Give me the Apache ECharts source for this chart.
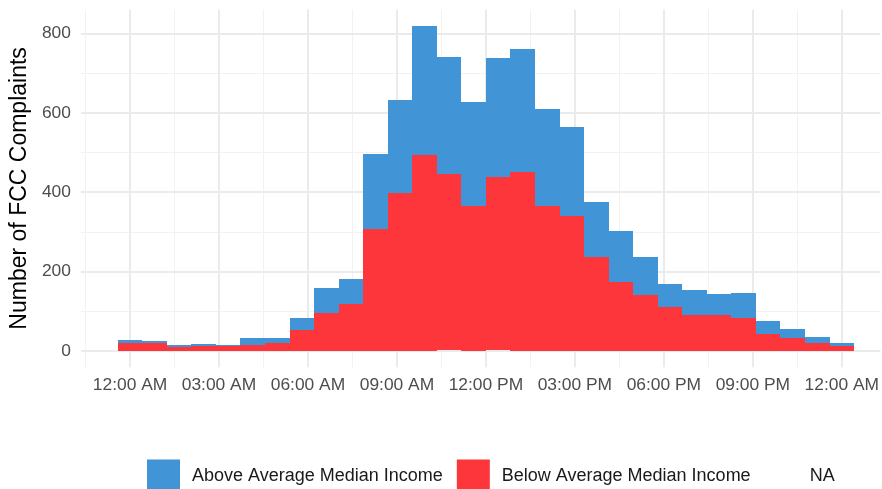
<!DOCTYPE html>
<html>
<head>
<meta charset="utf-8">
<script src="https://cdn.jsdelivr.net/npm/echarts@6/dist/echarts.min.js"></script>
<style>
html,body{margin:0;padding:0;background:#fff;}
#chart{width:882px;height:489px;}
</style>
</head>
<body>
<div id="chart"></div>
<script>
// Histogram: 30 bins spanning the day (hours), ggplot-style
const binStartHour = -0.4138;
const binWidthHour = 0.8276;
const belowIncome = [20,19,11,13,13,16,19,53,95,118,307,399,493,444,366,435,452,366,340,237,175,140,111,90,91,83,43,33,20,13];
const aboveIncome = [8,5,3,5,3,18,13,29,64,63,190,234,326,293,261,300,308,243,223,139,127,98,59,64,53,64,32,23,16,8];
const naIncome    = [0,0,0,0,0,0,0,0,0,0,0,0,0,3,0,3,0,0,0,0,0,0,0,0,0,0,0,0,0,0];
const seriesNames = ['Above Average Median Income','Below Average Median Income','NA'];
const xTickHours = [0,3,6,9,12,15,18,21,24];
const xTickLabels = ['12:00 AM','03:00 AM','06:00 AM','09:00 AM','12:00 PM','03:00 PM','06:00 PM','09:00 PM','12:00 AM'];
const xMinorHours = [-1.5,1.5,4.5,7.5,10.5,13.5,16.5,19.5,22.5];
const yTickValues = [0,200,400,600,800];
const yMinorValues = [100,300,500,700];

// stacked rectangles: NA at bottom, then Below, then Above on top
const naRects = [], belowRects = [], aboveRects = [];
for (let i = 0; i < belowIncome.length; i++) {
  const x0 = binStartHour + i * binWidthHour, x1 = x0 + binWidthHour;
  const b0 = 0, b1 = naIncome[i];
  const b2 = b1 + belowIncome[i];
  const b3 = b2 + aboveIncome[i];
  naRects.push([x0, x1, b0, b1]);
  belowRects.push([x0, x1, b1, b2]);
  aboveRects.push([x0, x1, b2, b3]);
}

function renderBin(params, api) {
  const x0 = api.value(0), x1 = api.value(1), y0 = api.value(2), y1 = api.value(3);
  if (y1 <= y0) return null;
  const p0 = api.coord([x0, y1]);
  const p1 = api.coord([x1, y0]);
  const L = Math.round(p0[0]), R = Math.round(p1[0]);
  const T = Math.round(p0[1]), B = Math.round(p1[1]);
  return {
    type: 'rect',
    shape: {x: L, y: T, width: R - L, height: B - T},
    style: {fill: api.visual('color')}
  };
}

const FONT = 'Liberation Sans, Arial, Helvetica, sans-serif';
const chart = echarts.init(document.getElementById('chart'), null, {renderer: 'canvas'});
const labelMap = {};
xTickHours.forEach((h, i) => { labelMap[h] = xTickLabels[i]; });

const X_MIN = -1.655, X_MAX = 25.3, Y_MIN = -41, Y_MAX = 860;

chart.setOption({
  animation: false,
  backgroundColor: '#ffffff',
  grid: {left: 80, right: 0, top: 9.5, bottom: 121.7, containLabel: false},
  xAxis: [{
    type: 'value', min: X_MIN, max: X_MAX, z: 1,
    axisLine: {show: false},
    axisTick: {show: false, customValues: xTickHours},
    axisLabel: {
      customValues: xTickHours,
      formatter: v => labelMap[v] !== undefined ? labelMap[v] : '',
      color: '#4d4d4d', fontFamily: FONT, fontSize: 17.4, margin: 9
    },
    splitLine: {show: true, lineStyle: {color: '#ebebeb', width: 2}}
  }, {
    type: 'value', min: X_MIN, max: X_MAX, position: 'bottom', z: 0,
    axisLine: {show: false},
    axisTick: {show: false, customValues: xMinorHours},
    axisLabel: {show: false, customValues: xMinorHours},
    splitLine: {show: true, lineStyle: {color: '#f2f2f2', width: 1}}
  }],
  yAxis: [{
    type: 'value', min: Y_MIN, max: Y_MAX, z: 1,
    name: 'Number of FCC Complaints',
    nameLocation: 'middle', nameRotate: 90, nameGap: 46,
    nameTextStyle: {color: '#000000', fontFamily: FONT, fontSize: 23},
    axisLine: {show: false},
    axisTick: {show: false, customValues: yTickValues},
    axisLabel: {
      customValues: yTickValues,
      color: '#4d4d4d', fontFamily: FONT, fontSize: 17.4, margin: 10
    },
    splitLine: {show: true, lineStyle: {color: '#ebebeb', width: 2}}
  }, {
    type: 'value', min: Y_MIN, max: Y_MAX, position: 'left', z: 0,
    axisLine: {show: false},
    axisTick: {show: false, customValues: yMinorValues},
    axisLabel: {show: false, customValues: yMinorValues},
    splitLine: {show: true, lineStyle: {color: '#f2f2f2', width: 1}}
  }],
  legend: {
    left: 147, top: 459.5, padding: 0, orient: 'horizontal',
    icon: 'rect', itemWidth: 33, itemHeight: 33, itemGap: 14,
    selectedMode: false,
    textStyle: {color: '#1a1a1a', fontFamily: FONT, fontSize: 18, padding: [0, 0, 0, 7]},
    data: seriesNames
  },
  series: [
    {
      name: seriesNames[2], type: 'custom', renderItem: renderBin,
      itemStyle: {color: 'rgba(0,0,0,0)'},
      encode: {x: [0, 1], y: [2, 3]}, data: naRects, z: 2
    },
    {
      name: seriesNames[1], type: 'custom', renderItem: renderBin,
      itemStyle: {color: '#fc363b'},
      encode: {x: [0, 1], y: [2, 3]}, data: belowRects, z: 3
    },
    {
      name: seriesNames[0], type: 'custom', renderItem: renderBin,
      itemStyle: {color: '#4194d6'},
      encode: {x: [0, 1], y: [2, 3]}, data: aboveRects, z: 3
    }
  ]
});
</script>
</body>
</html>
